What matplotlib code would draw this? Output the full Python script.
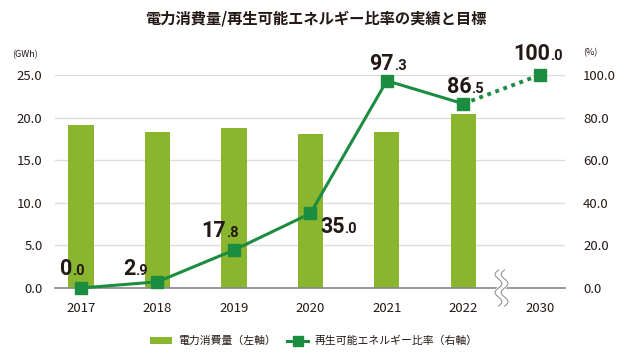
import matplotlib
matplotlib.use("Agg")
import matplotlib.pyplot as plt
import numpy as np
from matplotlib.patches import Patch
from matplotlib.lines import Line2D

plt.rcParams['font.family'] = ['Noto Sans CJK JP', 'DejaVu Sans']

years = ["2017", "2018", "2019", "2020", "2021", "2022", "2030"]
power_gwh = [19.1, 18.3, 18.8, 18.1, 18.3, 20.4]
renew_pct = [0.0, 2.9, 17.8, 35.0, 97.3, 86.5, 100.0]
left_ticks = [0.0, 5.0, 10.0, 15.0, 20.0, 25.0]
right_ticks = [0.0, 20.0, 40.0, 60.0, 80.0, 100.0]

bar_color = "#8ab52e"
line_color = "#1b8c40"
text_color = "#231815"

fig = plt.figure(figsize=(6.33, 3.6), dpi=100)
ax = fig.add_axes([55/633, 72/360, 510/633, 213/360])
ax2 = ax.twinx()

x = np.arange(len(years))
ax.bar(x[:len(power_gwh)], power_gwh, width=0.33, color=bar_color, zorder=2)
ax.set_ylim(0, 25)
ax.set_xlim(-0.34, 6.33)
ax.set_yticks(left_ticks)
ax.set_yticklabels([f"{v:.1f}" for v in left_ticks])
ax.set_xticks(x)
ax.set_xticklabels(years)
ax.grid(axis='y', color='#dddddd', lw=1, zorder=0)
ax.set_axisbelow(True)
for s in ['top', 'right', 'left']:
    ax.spines[s].set_visible(False)
ax.spines['bottom'].set_color('#888888')
ax.spines['bottom'].set_linewidth(1.2)
ax.tick_params(axis='both', length=0, labelsize=9.5, colors=text_color)
ax.tick_params(axis='x', pad=10)
ax.tick_params(axis='y', pad=9)

ax2.set_ylim(0, 100)
ax2.set_yticks(right_ticks)
ax2.set_yticklabels([f"{v:.1f}" for v in right_ticks])
for s in ax2.spines.values():
    s.set_visible(False)
ax2.tick_params(axis='y', length=0, labelsize=9.5, colors=text_color, pad=13)

ax2.plot(x[:6], renew_pct[:6], color=line_color, lw=2.2, marker='s', ms=8,
         clip_on=False, zorder=5)
ax2.plot(x[5:], renew_pct[5:], color=line_color, lw=2.8, ls=(0, (1, 1.2)),
         clip_on=False, zorder=4)
ax2.plot(x[6:], renew_pct[6:], color=line_color, lw=0, marker='s', ms=8,
         clip_on=False, zorder=5)

# value label offsets in pixels (dx right, dy up) of the integer/decimal split point, baseline
offsets_px = [(-9, 13), (-22, 7), (-8, 13), (34, -19.5), (7, 11), (8, 11), (10, 15)]
for i, v in enumerate(renew_pct):
    s = f"{v:.1f}"
    big, small = s.split(".")
    dx, dy = offsets_px[i]
    off = (dx * 0.72, dy * 0.72)
    ax2.annotate(big, (x[i], v), xytext=off, textcoords='offset points',
                 ha='right', va='baseline', fontsize=15.5, fontweight='bold',
                 family='Roboto', color=text_color, annotation_clip=False, zorder=6)
    ax2.annotate("." + small, (x[i], v), xytext=off, textcoords='offset points',
                 ha='left', va='baseline', fontsize=10.5, fontweight='bold',
                 family='Roboto', color=text_color, annotation_clip=False, zorder=6)

# axis break mark
t = np.linspace(0, 1, 60)
yb = -0.085 + 0.17 * t
xw = 5.5 + 0.045 * np.sin(t * 2 * np.pi * 2)
ax.plot(xw, yb, transform=ax.get_xaxis_transform(), color='white', lw=5,
        clip_on=False, zorder=7, solid_capstyle='butt')
ax.plot(xw - 0.04, yb, transform=ax.get_xaxis_transform(), color='#888888', lw=0.7,
        clip_on=False, zorder=8)
ax.plot(xw + 0.04, yb, transform=ax.get_xaxis_transform(), color='#888888', lw=0.7,
        clip_on=False, zorder=8)

fig.text(316/633, 1 - 19/360, "電力消費量/再生可能エネルギー比率の実績と目標",
         ha='center', va='center', fontsize=11, fontweight='bold', color=text_color)
fig.text(12/633, 1 - 55/360, "(GWh)", ha='left', va='center', fontsize=6.5, color=text_color)
fig.text(583/633, 1 - 53/360, "(%)", ha='left', va='center', fontsize=6.5, color=text_color)

handles = [Patch(facecolor=bar_color, edgecolor='none'),
           Line2D([0], [0], color=line_color, lw=2.2, marker='s', ms=7)]
fig.legend(handles, ["電力消費量（左軸）", "再生可能エネルギー比率（右軸）"],
           loc='center', bbox_to_anchor=(314/633, 1 - 341/360), ncol=2, frameon=False,
           fontsize=7.8, handlelength=2.0, handleheight=0.6, columnspacing=1.0,
           handletextpad=0.6, labelcolor=text_color)

fig.savefig("out.png", dpi=100)
